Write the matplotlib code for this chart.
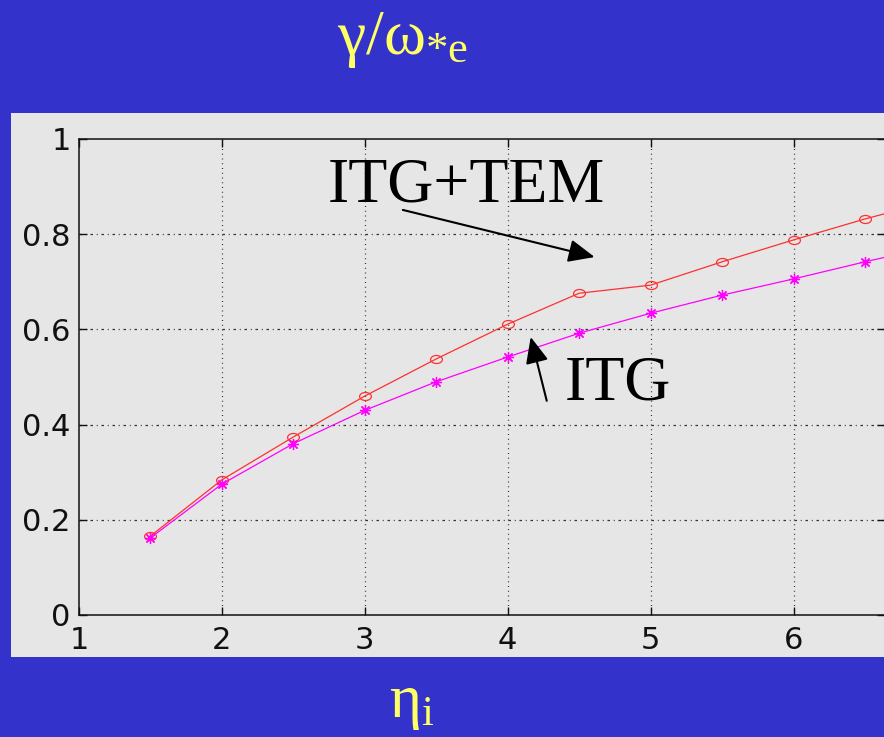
import numpy as np
import matplotlib
matplotlib.use('Agg')
import matplotlib.pyplot as plt
from matplotlib.patches import Rectangle
from matplotlib.path import Path
from matplotlib.transforms import Affine2D

# growth rate vs eta_i
eta = [1.5, 2.0, 2.5, 3.0, 3.5, 4.0, 4.5, 5.0, 5.5, 6.0, 6.5, 7.0]
itg_tem = [0.166, 0.284, 0.374, 0.460, 0.538, 0.611, 0.676, 0.693, 0.742, 0.788, 0.832, 0.872]
itg = [0.162, 0.275, 0.360, 0.430, 0.490, 0.542, 0.592, 0.634, 0.672, 0.706, 0.742, 0.776]
xticks = [1, 2, 3, 4, 5, 6]
yticks = [0, 0.2, 0.4, 0.6, 0.8, 1]
yticklabels = ['0', '0.2', '0.4', '0.6', '0.8', '1']

blue = '#3333CC'
panel = '#E6E6E6'
yellow = '#FFFF66'

plt.rcParams['mathtext.fontset'] = 'custom'
plt.rcParams['mathtext.rm'] = 'Liberation Serif'
plt.rcParams['mathtext.it'] = 'Liberation Serif'

W, H = 884, 737
fig = plt.figure(figsize=(W / 100, H / 100), dpi=100, facecolor=blue)

# gray frame behind the axes
fig.patches.append(Rectangle((11 / W, 1 - 657 / H), (884 - 11) / W, (657 - 113) / H,
                             transform=fig.transFigure, facecolor=panel,
                             edgecolor='none', zorder=0))

ax = fig.add_axes([79 / W, 1 - 615 / H, (885 - 79) / W, (615 - 139) / H])
ax.set_zorder(2)
ax.set_facecolor(panel)
ax.set_xlim(1, 6.64)
ax.set_ylim(0, 1)

# horizontal and vertical grid lines
for y in yticks[1:-1]:
    ax.axhline(y, color='#333333', lw=0.9, ls=(0, (2, 3, 0.8, 3)), zorder=1)
for x in xticks[1:]:
    ax.axvline(x, color='#333333', lw=0.9, ls=(0, (0.8, 3)), zorder=1)

# slightly flattened circle marker
oval = Path.unit_circle().transformed(Affine2D().scale(1.0, 0.68))

ax.plot(eta, itg_tem, color='#FF3030', lw=0.9, marker=oval, ms=8.5,
        mfc='none', mec='#FF3030', mew=0.9, zorder=3)
ax.plot(eta, itg, color='#FF00FF', lw=0.9, marker=(8, 2, 0), ms=8,
        mec='#FF00FF', mew=0.9, zorder=3)

ax.set_xticks(xticks)
ax.set_yticks(yticks)
ax.set_xticklabels([str(v) for v in xticks])
ax.set_yticklabels(yticklabels)
ax.tick_params(direction='in', length=6, width=1, colors='#111111',
               top=True, right=True, labelsize=22)
ax.tick_params(axis='x', pad=8)
ax.tick_params(axis='y', pad=6)
for lbl in ax.get_xticklabels() + ax.get_yticklabels():
    lbl.set_family('DejaVu Sans')
for s in ax.spines.values():
    s.set_linewidth(1.1)
    s.set_color('#111111')

# annotations
ax.text(2.741, 0.868, 'ITG+TEM', family='Liberation Serif', fontsize=46,
        color='black', ha='left', va='baseline')
ax.annotate('', xy=(4.608, 0.752), xytext=(3.266, 0.851),
            arrowprops=dict(arrowstyle='-|>,head_length=1.6,head_width=0.7',
                            color='black', lw=1.5, shrinkA=0, shrinkB=0))
ax.text(4.399, 0.452, 'ITG', family='Liberation Serif', fontsize=46,
        color='black', ha='left', va='baseline')
ax.annotate('', xy=(4.161, 0.584), xytext=(4.273, 0.450),
            arrowprops=dict(arrowstyle='-|>,head_length=1.6,head_width=0.7',
                            color='black', lw=1.5, shrinkA=0, shrinkB=0))

# labels on the blue background
fig.text(403 / W, 1 - 54 / H, r'$\mathrm{γ/ω}_{\mathrm{*e}}$', color=yellow,
         fontsize=46, ha='center', va='baseline')
fig.text(412 / W, 1 - 717 / H, r'$\mathrm{η}_{\mathrm{i}}$', color=yellow,
         fontsize=44, ha='center', va='baseline')

fig.savefig('out.png', dpi=100, facecolor=blue)
